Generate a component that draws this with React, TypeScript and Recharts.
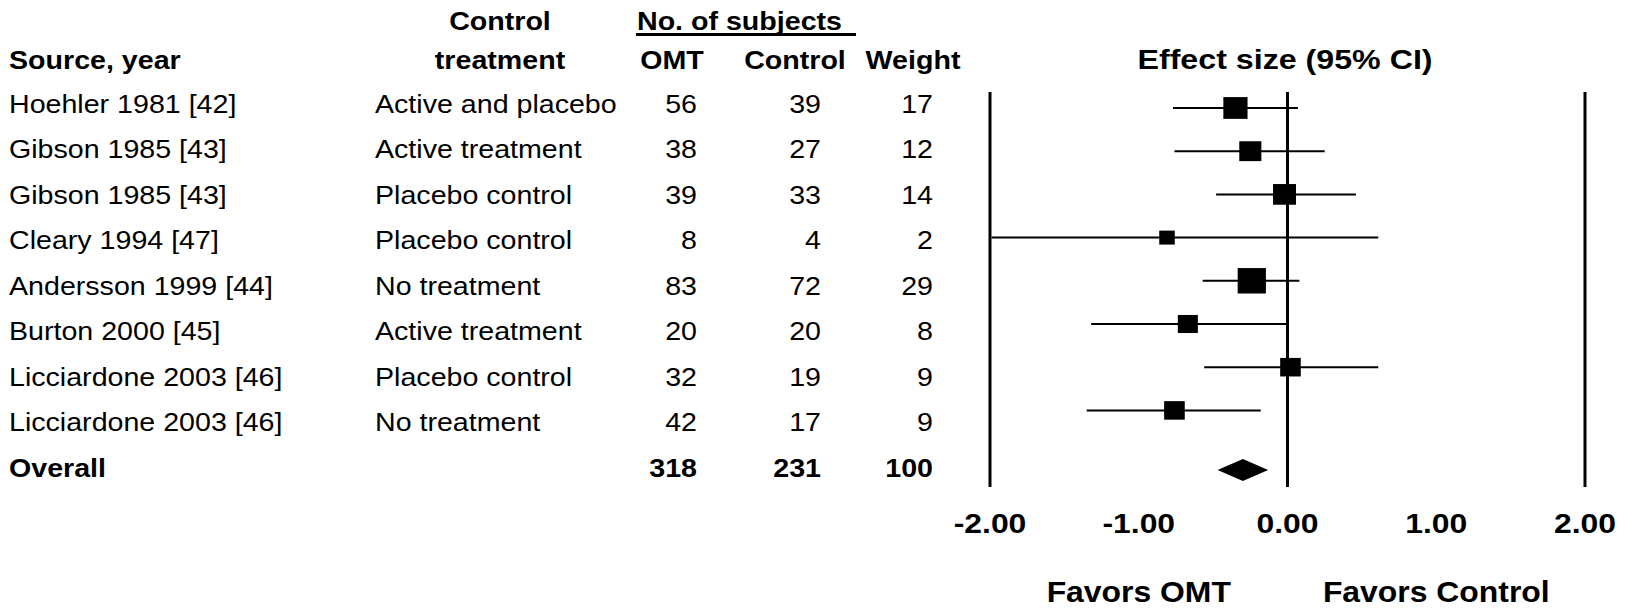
import React from 'react';
import { ComposedChart, Scatter, ErrorBar, XAxis, YAxis, ReferenceLine, Customized } from 'recharts';

// table columns
const sources = [
  'Hoehler 1981 [42]',
  'Gibson 1985 [43]',
  'Gibson 1985 [43]',
  'Cleary 1994 [47]',
  'Andersson 1999 [44]',
  'Burton 2000 [45]',
  'Licciardone 2003 [46]',
  'Licciardone 2003 [46]',
];
const controlTreatments = [
  'Active and placebo',
  'Active treatment',
  'Placebo control',
  'Placebo control',
  'No treatment',
  'Active treatment',
  'Placebo control',
  'No treatment',
];
const omtSubjects = [56, 38, 39, 8, 83, 20, 32, 42];
const controlSubjects = [39, 27, 33, 4, 72, 20, 19, 17];
const weights = [17, 12, 14, 2, 29, 8, 9, 9];

// effect sizes with 95% CI
const effects = [-0.35, -0.25, -0.02, -0.81, -0.24, -0.67, 0.02, -0.76];
const ciLow = [-0.77, -0.76, -0.48, -1.99, -0.57, -1.32, -0.56, -1.35];
const ciHigh = [0.07, 0.25, 0.46, 0.61, 0.08, -0.01, 0.61, -0.18];

const overallLabel = 'Overall';
const overallTotals = [318, 231, 100];
const overallEffect = -0.3;
const overallCi = [-0.47, -0.13];

const xTicks = [-2, -1, 0, 1, 2];
const refLines = [-2, 0, 2];
const favorLabels = [
  { at: -1, text: 'Favors OMT' },
  { at: 1, text: 'Favors Control' },
];

const FONT = '"Liberation Sans", Arial, Helvetica, sans-serif';
const W = 1625;
const H = 611;
const PLOT_LEFT = 990;
const PLOT_RIGHT = 1585;
const PLOT_TOP = 92;
const PLOT_BOTTOM = 487;
const X_DOMAIN: [number, number] = [-2, 2];
const PX_PER_UNIT = (PLOT_RIGHT - PLOT_LEFT) / (X_DOMAIN[1] - X_DOMAIN[0]);

const COL = { source: 9, control: 375, omt: 697, ctl: 821, weight: 933 };

const studyData = effects.map((x, i) => ({
  x,
  y: i,
  weight: weights[i],
  err: [x - ciLow[i], ciHigh[i] - x],
}));
const overallData = [{ x: overallEffect, y: sources.length + 0.38, lo: overallCi[0], hi: overallCi[1] }];
const rowTicks = [...sources.map((_, i) => i), sources.length];

function Txt({ x, y, children, anchor = 'start', size = 26, bold = false, sx = 1.1 }: any) {
  return (
    <text
      transform={`translate(${x},${y}) scale(${sx},1)`}
      textAnchor={anchor}
      fontSize={size}
      fontWeight={bold ? 'bold' : 'normal'}
      fontFamily={FONT}
      fill="#000"
    >
      {children}
    </text>
  );
}

function TableRow({ y, payload }: any) {
  const i = payload.value;
  const b = y + 9;
  if (i === sources.length) {
    return (
      <g>
        <Txt x={COL.source} y={b} bold>{overallLabel}</Txt>
        <Txt x={COL.omt} y={b} anchor="end" bold>{overallTotals[0]}</Txt>
        <Txt x={COL.ctl} y={b} anchor="end" bold>{overallTotals[1]}</Txt>
        <Txt x={COL.weight} y={b} anchor="end" bold>{overallTotals[2]}</Txt>
      </g>
    );
  }
  return (
    <g>
      <Txt x={COL.source} y={b}>{sources[i]}</Txt>
      <Txt x={COL.control} y={b}>{controlTreatments[i]}</Txt>
      <Txt x={COL.omt} y={b} anchor="end">{omtSubjects[i]}</Txt>
      <Txt x={COL.ctl} y={b} anchor="end">{controlSubjects[i]}</Txt>
      <Txt x={COL.weight} y={b} anchor="end">{weights[i]}</Txt>
    </g>
  );
}

function AxisTick({ x, y, payload }: any) {
  const fav = favorLabels.find((f) => f.at === payload.value);
  return (
    <g>
      <Txt x={x} y={y + 46} anchor="middle" bold size={28} sx={1.14}>
        {Number(payload.value).toFixed(2)}
      </Txt>
      {fav && (
        <Txt x={x} y={y + 115} anchor="middle" bold size={29} sx={1.1}>
          {fav.text}
        </Txt>
      )}
    </g>
  );
}

function Headers() {
  return (
    <g>
      <Txt x={500} y={30} anchor="middle" bold>Control</Txt>
      <Txt x={637} y={30} bold>No. of subjects</Txt>
      <line x1={636} x2={856} y1={34.5} y2={34.5} stroke="#000" strokeWidth={3} />
      <Txt x={COL.source} y={69} bold>Source, year</Txt>
      <Txt x={500} y={69} anchor="middle" bold>treatment</Txt>
      <Txt x={672} y={69} anchor="middle" bold>OMT</Txt>
      <Txt x={795} y={69} anchor="middle" bold>Control</Txt>
      <Txt x={913} y={69} anchor="middle" bold>Weight</Txt>
      <Txt x={1285} y={69} anchor="middle" bold size={28} sx={1.15}>Effect size (95% CI)</Txt>
    </g>
  );
}

const Square = (props: any) => {
  const { cx, cy, payload } = props;
  const w = 11 + 3.2 * Math.sqrt(payload.weight);
  const h = w * 0.9;
  return <rect x={cx - w / 2} y={cy - h / 2} width={w} height={h} fill="#000" />;
};

const Diamond = (props: any) => {
  const { cx, cy, payload } = props;
  const l = cx - (payload.x - payload.lo) * PX_PER_UNIT;
  const r = cx + (payload.hi - payload.x) * PX_PER_UNIT;
  return <polygon points={`${l},${cy} ${cx},${cy - 11} ${r},${cy} ${cx},${cy + 11}`} fill="#000" />;
};

// row scales: table rows and plot rows are spaced differently in the original
const tableDomain: [number, number] = [-0.2525, 8.419];
const plotDomain: [number, number] = [-0.37, 8.773];

export default function App() {
  return (
    <div style={{ position: 'absolute', left: 0, top: 0, width: W, height: H, background: '#fff' }}>
      <ComposedChart
        width={W}
        height={H}
        margin={{ top: PLOT_TOP, right: W - PLOT_RIGHT, bottom: 0, left: 0 }}
      >
        <XAxis
          type="number"
          dataKey="x"
          domain={X_DOMAIN}
          allowDataOverflow
          ticks={xTicks}
          interval={0}
          axisLine={false}
          tickLine={false}
          tickSize={0}
          tickMargin={0}
          height={H - PLOT_BOTTOM}
          tick={<AxisTick />}
        />
        <YAxis
          yAxisId="table"
          type="number"
          domain={tableDomain}
          allowDataOverflow
          reversed
          ticks={rowTicks}
          interval={0}
          axisLine={false}
          tickLine={false}
          width={PLOT_LEFT}
          tick={<TableRow />}
        />
        <YAxis
          yAxisId="plot"
          type="number"
          dataKey="y"
          domain={plotDomain}
          allowDataOverflow
          reversed
          hide
        />
        {refLines.map((v) => (
          <ReferenceLine key={v} x={v} yAxisId="plot" stroke="#000" strokeWidth={3} />
        ))}
        <Scatter yAxisId="plot" data={studyData} dataKey="y" shape={Square} isAnimationActive={false}>
          <ErrorBar dataKey="err" direction="x" width={0} stroke="#000" strokeWidth={2} isAnimationActive={false} />
        </Scatter>
        <Scatter yAxisId="plot" data={overallData} dataKey="y" shape={Diamond} isAnimationActive={false} />
        <Customized component={Headers} />
      </ComposedChart>
    </div>
  );
}
